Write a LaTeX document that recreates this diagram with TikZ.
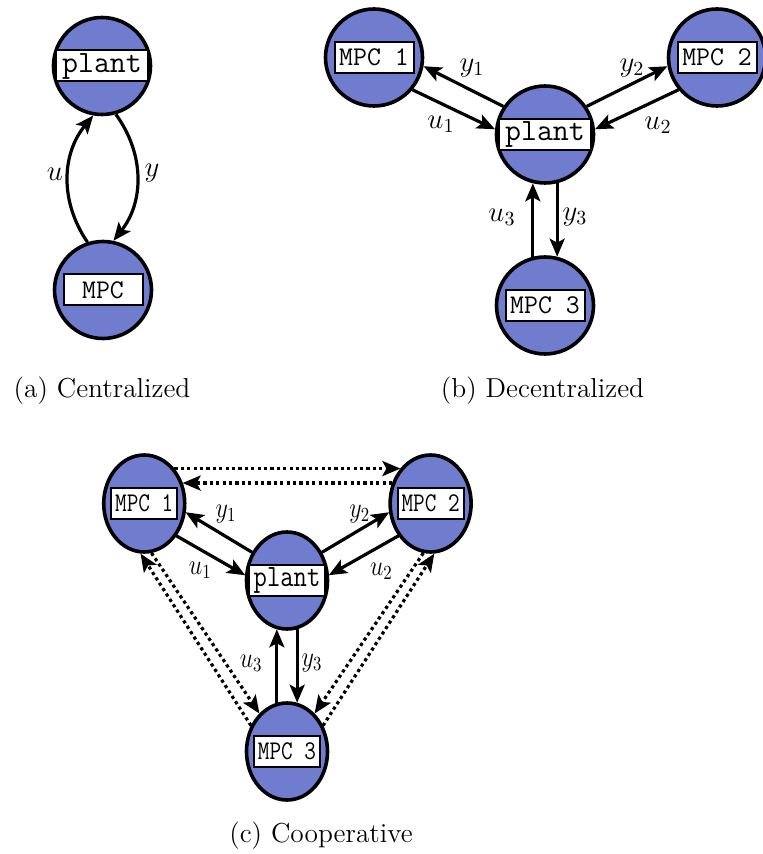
\documentclass[tikz,border=0pt]{standalone}
\usepackage{tikz}
\usetikzlibrary{arrows.meta, positioning, calc}

\definecolor{mpcblue}{RGB}{112,124,206}

\begin{document}
\begin{tikzpicture}[x=0.5pt, y=-0.5pt,
      unit/.style={circle, draw, line width=1.8pt, fill=mpcblue,
                   minimum size=48.5pt, inner sep=0pt},
      tag/.style={draw, line width=1pt, fill=white,
                  font=\ttfamily\fontsize{13.5}{15}\selectfont,
                  minimum width=39.5pt, minimum height=15.5pt, inner sep=0pt},
      plnt/.style={tag, font=\ttfamily\fontsize{15.5}{17}\selectfont,
                   minimum width=46pt},
      arr/.style={-{Stealth[length=9pt, width=7.5pt, inset=2pt]}, line width=1.6pt},
      dots/.style={arr, dash pattern=on 1.6pt off 1.6pt},
      lbl/.style={font=\fontsize{14.4}{17}\selectfont},
      subcap/.style={font=\fontsize{13.7}{16}\selectfont}
    ]
      \useasboundingbox (0,0) rectangle (762,854);

      % (a) centralized
      \node[unit] (planta) at (102,66) {};
      \node[plnt] at (planta) {plant};
      \node[unit] (mpca) at (103,290) {};
      \node[tag] at (mpca) {MPC};

      \draw[arr] (mpca.108) to[bend left=37] (planta.260);
      \draw[arr] (planta.286) to[bend left=37] (mpca.78);
      \node[lbl] (ua) at (55,174) {$u$};
      \node[lbl] (ya) at (152,173) {$y$};

      % (b) decentralized and (c) cooperative share the same layout
      \foreach \s/\sx/\ox/\oy in {b/1/545/134.5, c/0.835/287/580.5} {
        \begin{scope}[shift={(\ox,\oy)}, xscale=\sx, transform shape]
          \node[unit] (plant\s) at (0,0) {};
          \node[plnt] at (plant\s) {plant};
          \node[unit] (mpc1\s) at (-171,-77) {};
          \node[tag] at (mpc1\s) {MPC 1};
          \node[unit] (mpc2\s) at (172,-77) {};
          \node[tag] at (mpc2\s) {MPC 2};
          \node[unit] (mpc3\s) at (0,171) {};
          \node[tag] at (mpc3\s) {MPC 3};

          \draw[arr] (plant\s.146) -- (mpc1\s.-10);
          \draw[arr] (mpc1\s.-40) -- (plant\s.174);
          \draw[arr] (plant\s.34) -- (mpc2\s.190);
          \draw[arr] (mpc2\s.220) -- (plant\s.6);
          \draw[arr] (mpc3\s.104) -- (plant\s.256);
          \draw[arr] (plant\s.284) -- (mpc3\s.76);

          \node[lbl] at (-73,-66.5) {$y_1$};
          \node[lbl] at (-104,-10) {$u_1$};
          \node[lbl] at (87,-66.5) {$y_2$};
          \node[lbl] at (113,-9.5) {$u_2$};
          \node[lbl] at (-43,82.5) {$u_3$};
          \node[lbl] at (30,82.5) {$y_3$};
        \end{scope}
      }

      % (c) only: exchange between the controllers
      \draw[dots] (mpc1c.44) -- (mpc2c.136);
      \draw[dots] (mpc2c.156) -- (mpc1c.24);
      \draw[dots] (mpc1c.280) -- (mpc3c.131);
      \draw[dots] (mpc3c.149) -- (mpc1c.265);
      \draw[dots] (mpc2c.260) -- (mpc3c.49);
      \draw[dots] (mpc3c.31) -- (mpc2c.275);

      % captions
      \node[subcap] (capa) at (102,391) {(a) Centralized};
      \node[subcap] (capb) at (542.5,391) {(b) Decentralized};
      \node[subcap] (capc) at (321,836) {(c) Cooperative};
    \end{tikzpicture}
\end{document}
